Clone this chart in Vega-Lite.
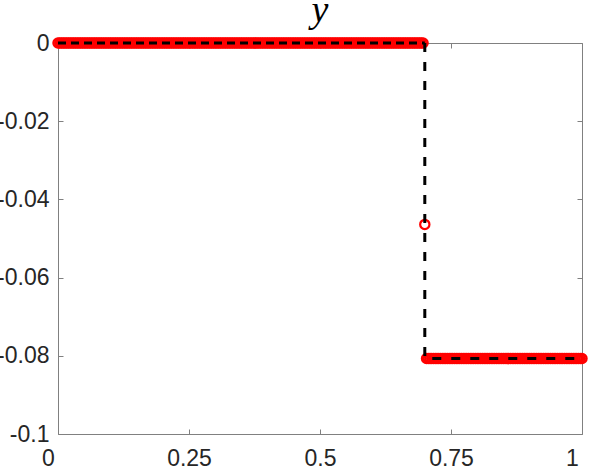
{
"$schema": "https://vega.github.io/schema/vega-lite/v6.json",
"width": 524,
"height": 391,
"autosize": {"type": "none"},
"padding": {"left": 58, "top": 43, "right": 16, "bottom": 38},
"background": "white",
"title": {"text": "y", "font": "Liberation Serif", "fontStyle": "italic", "fontWeight": "normal", "fontSize": 38, "color": "#000000", "anchor": "middle", "baseline": "alphabetic", "offset": -28},
"config": {"view": {"stroke": null}},
"datasets": {
"pts": [
{"x":0,"y":0},{"x":0.0033,"y":0},{"x":0.0067,"y":0},{"x":0.01,"y":0},{"x":0.0133,"y":0},{"x":0.0167,"y":0},{"x":0.02,"y":0},{"x":0.0233,"y":0},{"x":0.0267,"y":0},{"x":0.03,"y":0},{"x":0.0333,"y":0},{"x":0.0367,"y":0},{"x":0.04,"y":0},{"x":0.0433,"y":0},{"x":0.0467,"y":0},{"x":0.05,"y":0},{"x":0.0533,"y":0},{"x":0.0567,"y":0},{"x":0.06,"y":0},{"x":0.0633,"y":0},{"x":0.0667,"y":0},{"x":0.07,"y":0},{"x":0.0733,"y":0},{"x":0.0767,"y":0},{"x":0.08,"y":0},{"x":0.0833,"y":0},{"x":0.0867,"y":0},{"x":0.09,"y":0},{"x":0.0933,"y":0},{"x":0.0967,"y":0},
{"x":0.1,"y":0},{"x":0.1033,"y":0},{"x":0.1067,"y":0},{"x":0.11,"y":0},{"x":0.1133,"y":0},{"x":0.1167,"y":0},{"x":0.12,"y":0},{"x":0.1233,"y":0},{"x":0.1267,"y":0},{"x":0.13,"y":0},{"x":0.1333,"y":0},{"x":0.1367,"y":0},{"x":0.14,"y":0},{"x":0.1433,"y":0},{"x":0.1467,"y":0},{"x":0.15,"y":0},{"x":0.1533,"y":0},{"x":0.1567,"y":0},{"x":0.16,"y":0},{"x":0.1633,"y":0},{"x":0.1667,"y":0},{"x":0.17,"y":0},{"x":0.1733,"y":0},{"x":0.1767,"y":0},{"x":0.18,"y":0},{"x":0.1833,"y":0},{"x":0.1867,"y":0},{"x":0.19,"y":0},{"x":0.1933,"y":0},{"x":0.1967,"y":0},
{"x":0.2,"y":0},{"x":0.2033,"y":0},{"x":0.2067,"y":0},{"x":0.21,"y":0},{"x":0.2133,"y":0},{"x":0.2167,"y":0},{"x":0.22,"y":0},{"x":0.2233,"y":0},{"x":0.2267,"y":0},{"x":0.23,"y":0},{"x":0.2333,"y":0},{"x":0.2367,"y":0},{"x":0.24,"y":0},{"x":0.2433,"y":0},{"x":0.2467,"y":0},{"x":0.25,"y":0},{"x":0.2533,"y":0},{"x":0.2567,"y":0},{"x":0.26,"y":0},{"x":0.2633,"y":0},{"x":0.2667,"y":0},{"x":0.27,"y":0},{"x":0.2733,"y":0},{"x":0.2767,"y":0},{"x":0.28,"y":0},{"x":0.2833,"y":0},{"x":0.2867,"y":0},{"x":0.29,"y":0},{"x":0.2933,"y":0},{"x":0.2967,"y":0},
{"x":0.3,"y":0},{"x":0.3033,"y":0},{"x":0.3067,"y":0},{"x":0.31,"y":0},{"x":0.3133,"y":0},{"x":0.3167,"y":0},{"x":0.32,"y":0},{"x":0.3233,"y":0},{"x":0.3267,"y":0},{"x":0.33,"y":0},{"x":0.3333,"y":0},{"x":0.3367,"y":0},{"x":0.34,"y":0},{"x":0.3433,"y":0},{"x":0.3467,"y":0},{"x":0.35,"y":0},{"x":0.3533,"y":0},{"x":0.3567,"y":0},{"x":0.36,"y":0},{"x":0.3633,"y":0},{"x":0.3667,"y":0},{"x":0.37,"y":0},{"x":0.3733,"y":0},{"x":0.3767,"y":0},{"x":0.38,"y":0},{"x":0.3833,"y":0},{"x":0.3867,"y":0},{"x":0.39,"y":0},{"x":0.3933,"y":0},{"x":0.3967,"y":0},
{"x":0.4,"y":0},{"x":0.4033,"y":0},{"x":0.4067,"y":0},{"x":0.41,"y":0},{"x":0.4133,"y":0},{"x":0.4167,"y":0},{"x":0.42,"y":0},{"x":0.4233,"y":0},{"x":0.4267,"y":0},{"x":0.43,"y":0},{"x":0.4333,"y":0},{"x":0.4367,"y":0},{"x":0.44,"y":0},{"x":0.4433,"y":0},{"x":0.4467,"y":0},{"x":0.45,"y":0},{"x":0.4533,"y":0},{"x":0.4567,"y":0},{"x":0.46,"y":0},{"x":0.4633,"y":0},{"x":0.4667,"y":0},{"x":0.47,"y":0},{"x":0.4733,"y":0},{"x":0.4767,"y":0},{"x":0.48,"y":0},{"x":0.4833,"y":0},{"x":0.4867,"y":0},{"x":0.49,"y":0},{"x":0.4933,"y":0},{"x":0.4967,"y":0},
{"x":0.5,"y":0},{"x":0.5033,"y":0},{"x":0.5067,"y":0},{"x":0.51,"y":0},{"x":0.5133,"y":0},{"x":0.5167,"y":0},{"x":0.52,"y":0},{"x":0.5233,"y":0},{"x":0.5267,"y":0},{"x":0.53,"y":0},{"x":0.5333,"y":0},{"x":0.5367,"y":0},{"x":0.54,"y":0},{"x":0.5433,"y":0},{"x":0.5467,"y":0},{"x":0.55,"y":0},{"x":0.5533,"y":0},{"x":0.5567,"y":0},{"x":0.56,"y":0},{"x":0.5633,"y":0},{"x":0.5667,"y":0},{"x":0.57,"y":0},{"x":0.5733,"y":0},{"x":0.5767,"y":0},{"x":0.58,"y":0},{"x":0.5833,"y":0},{"x":0.5867,"y":0},{"x":0.59,"y":0},{"x":0.5933,"y":0},{"x":0.5967,"y":0},
{"x":0.6,"y":0},{"x":0.6033,"y":0},{"x":0.6067,"y":0},{"x":0.61,"y":0},{"x":0.6133,"y":0},{"x":0.6167,"y":0},{"x":0.62,"y":0},{"x":0.6233,"y":0},{"x":0.6267,"y":0},{"x":0.63,"y":0},{"x":0.6333,"y":0},{"x":0.6367,"y":0},{"x":0.64,"y":0},{"x":0.6433,"y":0},{"x":0.6467,"y":0},{"x":0.65,"y":0},{"x":0.6533,"y":0},{"x":0.6567,"y":0},{"x":0.66,"y":0},{"x":0.6633,"y":0},{"x":0.6667,"y":0},{"x":0.67,"y":0},{"x":0.6733,"y":0},{"x":0.6767,"y":0},{"x":0.68,"y":0},{"x":0.6833,"y":0},{"x":0.6867,"y":0},{"x":0.69,"y":0},{"x":0.6933,"y":0},{"x":0.6967,"y":0},
{"x":0.7,"y":-0.0464},
{"x":0.7033,"y":-0.0807},{"x":0.7067,"y":-0.0807},{"x":0.71,"y":-0.0807},{"x":0.7133,"y":-0.0807},{"x":0.7167,"y":-0.0807},{"x":0.72,"y":-0.0807},{"x":0.7233,"y":-0.0807},{"x":0.7267,"y":-0.0807},{"x":0.73,"y":-0.0807},{"x":0.7333,"y":-0.0807},{"x":0.7367,"y":-0.0807},{"x":0.74,"y":-0.0807},{"x":0.7433,"y":-0.0807},{"x":0.7467,"y":-0.0807},{"x":0.75,"y":-0.0807},{"x":0.7533,"y":-0.0807},{"x":0.7567,"y":-0.0807},{"x":0.76,"y":-0.0807},{"x":0.7633,"y":-0.0807},{"x":0.7667,"y":-0.0807},{"x":0.77,"y":-0.0807},{"x":0.7733,"y":-0.0807},{"x":0.7767,"y":-0.0807},{"x":0.78,"y":-0.0807},{"x":0.7833,"y":-0.0807},{"x":0.7867,"y":-0.0807},{"x":0.79,"y":-0.0807},{"x":0.7933,"y":-0.0807},{"x":0.7967,"y":-0.0807},
{"x":0.8,"y":-0.0807},{"x":0.8033,"y":-0.0807},{"x":0.8067,"y":-0.0807},{"x":0.81,"y":-0.0807},{"x":0.8133,"y":-0.0807},{"x":0.8167,"y":-0.0807},{"x":0.82,"y":-0.0807},{"x":0.8233,"y":-0.0807},{"x":0.8267,"y":-0.0807},{"x":0.83,"y":-0.0807},{"x":0.8333,"y":-0.0807},{"x":0.8367,"y":-0.0807},{"x":0.84,"y":-0.0807},{"x":0.8433,"y":-0.0807},{"x":0.8467,"y":-0.0807},{"x":0.85,"y":-0.0807},{"x":0.8533,"y":-0.0807},{"x":0.8567,"y":-0.0807},{"x":0.86,"y":-0.0807},{"x":0.8633,"y":-0.0807},{"x":0.8667,"y":-0.0807},{"x":0.87,"y":-0.0807},{"x":0.8733,"y":-0.0807},{"x":0.8767,"y":-0.0807},{"x":0.88,"y":-0.0807},{"x":0.8833,"y":-0.0807},{"x":0.8867,"y":-0.0807},{"x":0.89,"y":-0.0807},{"x":0.8933,"y":-0.0807},{"x":0.8967,"y":-0.0807},
{"x":0.9,"y":-0.0807},{"x":0.9033,"y":-0.0807},{"x":0.9067,"y":-0.0807},{"x":0.91,"y":-0.0807},{"x":0.9133,"y":-0.0807},{"x":0.9167,"y":-0.0807},{"x":0.92,"y":-0.0807},{"x":0.9233,"y":-0.0807},{"x":0.9267,"y":-0.0807},{"x":0.93,"y":-0.0807},{"x":0.9333,"y":-0.0807},{"x":0.9367,"y":-0.0807},{"x":0.94,"y":-0.0807},{"x":0.9433,"y":-0.0807},{"x":0.9467,"y":-0.0807},{"x":0.95,"y":-0.0807},{"x":0.9533,"y":-0.0807},{"x":0.9567,"y":-0.0807},{"x":0.96,"y":-0.0807},{"x":0.9633,"y":-0.0807},{"x":0.9667,"y":-0.0807},{"x":0.97,"y":-0.0807},{"x":0.9733,"y":-0.0807},{"x":0.9767,"y":-0.0807},{"x":0.98,"y":-0.0807},{"x":0.9833,"y":-0.0807},{"x":0.9867,"y":-0.0807},{"x":0.99,"y":-0.0807},{"x":0.9933,"y":-0.0807},{"x":0.9967,"y":-0.0807},
{"x":1,"y":-0.0807}
],
"exact": [
{"i":1,"seg":"a","x":0,"y":0},
{"i":2,"seg":"a","x":0.7,"y":0},
{"i":3,"seg":"b","x":0.7,"y":0},
{"i":4,"seg":"b","x":0.7,"y":-0.0807},
{"i":5,"seg":"b","x":1,"y":-0.0807}
]
},
"layer": [
{
"data": {"name": "pts"},
"mark": {"type": "point", "shape": "circle", "filled": false, "stroke": "#ff0000", "strokeWidth": 2.2, "size": 86, "opacity": 1, "clip": false},
"encoding": {
"x": {"field": "x", "type": "quantitative", "scale": {"domain": [0, 1], "nice": false, "zero": false},
"axis": {"orient": "bottom", "title": null, "grid": false, "values": [0, 0.25, 0.5, 0.75, 1], "labelExpr": "'' + datum.value", "domainColor": "#808080", "domainWidth": 1, "tickColor": "#808080", "tickWidth": 1, "tickSize": -5, "labelFont": "Liberation Sans", "labelFontSize": 23, "labelColor": "#262626", "labelPadding": 18, "labelFlush": false, "labelOverlap": false, "labelBound": false, "labelOffset": {"condition": {"test": "datum.value == 0 || datum.value == 1", "value": -10}, "value": 0}}},
"y": {"field": "y", "type": "quantitative", "scale": {"domain": [-0.1, 0], "nice": false, "zero": false},
"axis": {"orient": "left", "title": null, "grid": false, "values": [-0.1, -0.08, -0.06, -0.04, -0.02, 0], "labelExpr": "'' + datum.value", "domainColor": "#808080", "domainWidth": 1, "tickColor": "#808080", "tickWidth": 1, "tickSize": -5, "labelFont": "Liberation Sans", "labelFontSize": 23, "labelColor": "#262626", "labelPadding": 14, "labelFlush": false, "labelOverlap": false, "labelBound": false}}
}
},
{
"data": {"name": "exact"},
"mark": {"type": "line", "color": "#000000", "strokeWidth": 3, "clip": false},
"encoding": {
"x": {"field": "x", "type": "quantitative", "axis": null},
"y": {"field": "y", "type": "quantitative", "axis": null},
"order": {"field": "i", "type": "quantitative"},
"strokeDash": {"field": "seg", "type": "nominal", "scale": {"domain": ["a", "b"], "range": [[8, 5], [9, 10]]}, "legend": null}
}
},
{
"data": {"name": "exact"},
"mark": {"type": "point", "opacity": 0},
"encoding": {
"x": {"field": "x", "type": "quantitative",
"axis": {"orient": "top", "title": null, "grid": false, "labels": false, "values": [0, 0.25, 0.5, 0.75, 1], "domainColor": "#808080", "domainWidth": 1, "tickColor": "#808080", "tickWidth": 1, "tickSize": -5}},
"y": {"field": "y", "type": "quantitative",
"axis": {"orient": "right", "title": null, "grid": false, "labels": false, "values": [-0.1, -0.08, -0.06, -0.04, -0.02, 0], "domainColor": "#808080", "domainWidth": 1, "tickColor": "#808080", "tickWidth": 1, "tickSize": -5}}
}
}
],
"resolve": {"axis": {"x": "independent", "y": "independent"}}
}
